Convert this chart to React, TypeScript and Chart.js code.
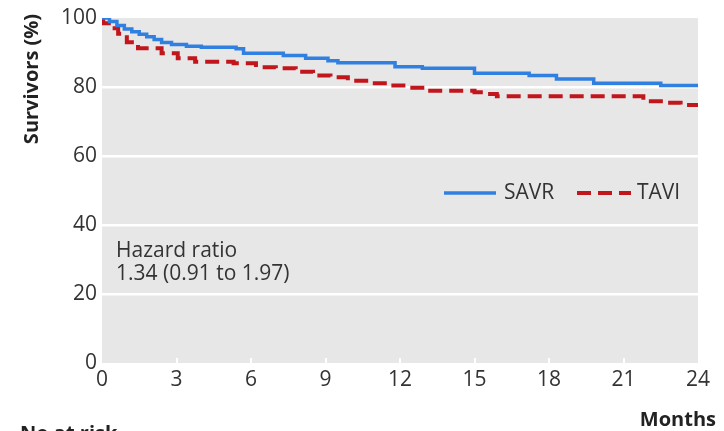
import React, { useEffect, useRef } from "react";
import { Chart, registerables } from "chart.js";

Chart.register(...registerables);

// Kaplan-Meier steps (month, survivors %)
const savrMonths = [0, 0.3, 0.6, 0.9, 1.2, 1.5, 1.8, 2.1, 2.4, 2.8, 3.4, 4.0, 5.4, 5.7, 7.3, 8.2, 9.1, 9.5, 11.8, 12.9, 15.0, 17.2, 18.3, 19.8, 22.5, 24];
const savrValues = [100, 99.0, 97.8, 96.8, 96.0, 95.3, 94.6, 93.8, 92.9, 92.3, 91.8, 91.5, 91.1, 89.8, 89.1, 88.3, 87.6, 87.0, 85.9, 85.4, 84.0, 83.3, 82.3, 81.1, 80.4, 80.4];

const taviMonths = [0, 0.05, 0.4, 0.65, 1.0, 1.45, 2.4, 3.05, 3.75, 5.3, 6.2, 7.0, 7.8, 8.5, 9.2, 9.9, 10.8, 11.6, 12.3, 13.1, 15.0, 15.4, 15.9, 21.8, 22.6, 23.3, 24];
const taviValues = [100, 98.5, 97.0, 95.4, 93.0, 91.2, 89.8, 88.3, 87.3, 86.9, 85.7, 85.4, 84.4, 83.3, 82.8, 81.8, 81.1, 80.4, 79.8, 78.9, 78.5, 78.0, 77.3, 75.9, 75.4, 74.8, 74.8];

const seriesNames = ["SAVR", "TAVI"];
const xTicks = [0, 3, 6, 9, 12, 15, 18, 21, 24];
const yTicks = [0, 20, 40, 60, 80, 100];
const yTitle = "Survivors (%)";
const xTitle = "Months";
const riskTitle = "No at risk";
const hazardLines = ["Hazard ratio", "1.34 (0.91 to 1.97)"];

const FONT = "'Open Sans', 'Noto Sans', sans-serif";
const BLUE = "#2f80e0";
const RED = "#c1161c";
const TEXT = "#333333";

const decorPlugin = {
  id: "decor",
  beforeDraw(chart: any) {
    const { ctx, chartArea } = chart;
    ctx.save();
    ctx.fillStyle = "#e7e7e7";
    ctx.fillRect(chartArea.left, chartArea.top, chartArea.right - chartArea.left, chartArea.bottom - chartArea.top);
    ctx.restore();
  },
  afterDraw(chart: any) {
    const { ctx, chartArea } = chart;
    const xs = chart.scales.x;
    ctx.save();
    // small inner tick marks
    ctx.strokeStyle = "#ffffff";
    ctx.lineWidth = 2;
    xTicks.forEach((t) => {
      if (t === xTicks[0] || t === xTicks[xTicks.length - 1]) return;
      const px = Math.round(xs.getPixelForValue(t));
      ctx.beginPath();
      ctx.moveTo(px, chartArea.bottom);
      ctx.lineTo(px, chartArea.bottom - 5);
      ctx.stroke();
    });

    ctx.fillStyle = TEXT;
    // y title
    ctx.save();
    ctx.translate(32, 79);
    ctx.rotate(-Math.PI / 2);
    ctx.font = `bold 20px ${FONT}`;
    ctx.textAlign = "center";
    ctx.textBaseline = "middle";
    ctx.fillStyle = "#222";
    ctx.fillText(yTitle, 0, 0);
    ctx.restore();

    // x title
    ctx.font = `bold 20px ${FONT}`;
    ctx.textAlign = "right";
    ctx.textBaseline = "middle";
    ctx.fillStyle = "#222";
    ctx.fillText(xTitle, 716, 420);

    // No at risk
    ctx.textAlign = "left";
    ctx.textBaseline = "alphabetic";
    ctx.fillText(riskTitle, 20, 440);

    // hazard ratio
    ctx.font = `21px ${FONT}`;
    ctx.fillStyle = TEXT;
    ctx.fillText(hazardLines[0], 116, 257);
    ctx.fillText(hazardLines[1], 116, 280);

    // legend
    const ds = chart.data.datasets;
    const ly = 193;
    const items = [
      { x0: 444, x1: 496, tx: 504 },
      { x0: 577, x1: 631, tx: 637 },
    ];
    items.forEach((it, i) => {
      const d = ds[i];
      ctx.save();
      ctx.strokeStyle = d.borderColor;
      ctx.lineWidth = d.borderWidth;
      ctx.setLineDash(d.borderDash || []);
      ctx.beginPath();
      ctx.moveTo(it.x0, ly);
      ctx.lineTo(it.x1, ly);
      ctx.stroke();
      ctx.restore();
      ctx.font = `21px ${FONT}`;
      ctx.fillStyle = TEXT;
      ctx.textAlign = "left";
      ctx.textBaseline = "middle";
      ctx.fillText(d.label, it.tx, ly);
    });
    ctx.restore();
  },
};

export default function App() {
  const ref = useRef<HTMLCanvasElement | null>(null);
  useEffect(() => {
    if (!ref.current) return;
    const chart = new Chart(ref.current, {
      type: "line",
      data: {
        datasets: [
          {
            label: seriesNames[0],
            data: savrMonths.map((m, i) => ({ x: m, y: savrValues[i] })),
            borderColor: BLUE,
            borderWidth: 3.5,
            stepped: "before",
            pointRadius: 0,
            fill: false,
          },
          {
            label: seriesNames[1],
            data: taviMonths.map((m, i) => ({ x: m, y: taviValues[i] })),
            borderColor: RED,
            borderWidth: 4,
            borderDash: [14, 7],
            stepped: "before",
            pointRadius: 0,
            fill: false,
          },
        ],
      },
      options: {
        animation: false,
        responsive: false,
        devicePixelRatio: 1,
        layout: { padding: { left: 0, top: 18, right: 26, bottom: 0 } },
        plugins: { legend: { display: false }, tooltip: { enabled: false } },
        scales: {
          x: {
            type: "linear",
            min: 0,
            max: 24,
            afterBuildTicks: (s: any) => {
              s.ticks = xTicks.map((v) => ({ value: v }));
            },
            afterFit: (s: any) => {
              s.height = 68;
            },
            grid: { display: false, drawTicks: false },
            border: { display: false },
            ticks: {
              padding: 4,
              color: TEXT,
              font: { family: FONT, size: 21 },
              maxRotation: 0,
              autoSkip: false,
            },
          },
          y: {
            min: 0,
            max: 100,
            afterBuildTicks: (s: any) => {
              s.ticks = yTicks.map((v) => ({ value: v }));
            },
            afterFit: (s: any) => {
              s.width = 102;
            },
            grid: {
              drawTicks: false,
              lineWidth: 2.5,
              color: (c: any) =>
                c.tick && (c.tick.value === 0 || c.tick.value === 100) ? "rgba(0,0,0,0)" : "#ffffff",
            },
            border: { display: false },
            ticks: {
              padding: 5,
              color: TEXT,
              font: { family: FONT, size: 21 },
            },
          },
        },
      },
      plugins: [decorPlugin],
    });
    return () => chart.destroy();
  }, []);
  return (
    <div style={{ position: "absolute", left: 0, top: 0, width: 724, height: 431, background: "#fff" }}>
      <canvas ref={ref} width={724} height={431} style={{ display: "block" }} />
    </div>
  );
}
